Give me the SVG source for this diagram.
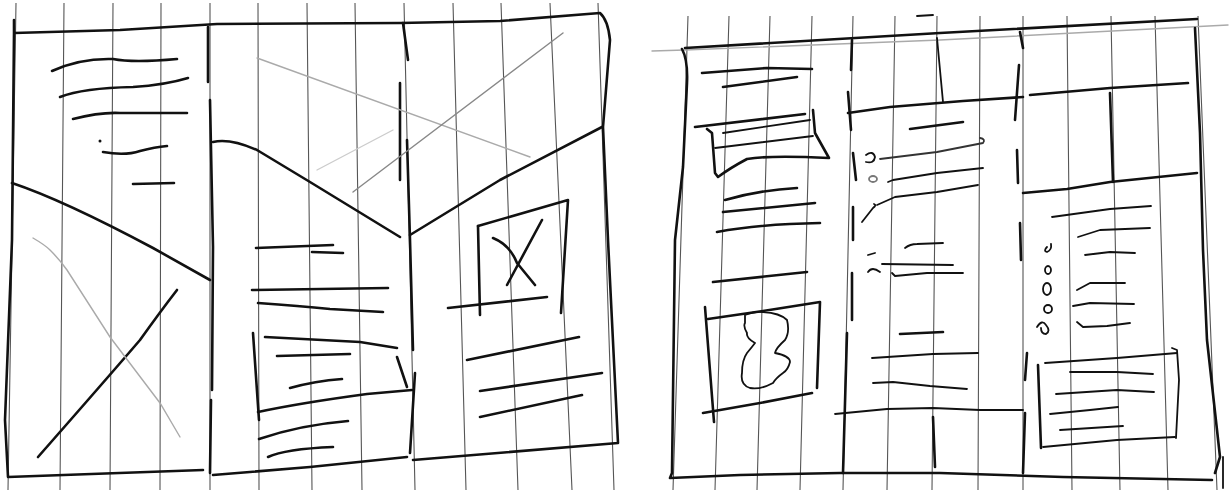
<svg xmlns="http://www.w3.org/2000/svg" width="1231" height="493" viewBox="0 0 1231 493">
<style>
.g{stroke:#555;stroke-width:1.1;fill:none}
.p{stroke:#111;stroke-width:2.6;fill:none;stroke-linecap:round;stroke-linejoin:round}
.t{stroke:#111;stroke-width:1.8;fill:none;stroke-linecap:round;stroke-linejoin:round}
.f{stroke:#aaa;stroke-width:1.4;fill:none;stroke-linecap:round}
</style>
<rect width="1231" height="493" fill="#fff"/>
<g id="grid-left">
<path class="g" d="M16 3L8 490M64 3L60 490M113 3L110 490M161 3L160 490M210 3L210 490M258 3L259 490M307 3L312 490M355 3L362 490M404 3L415 490M453 3L466 490M501 3L518 490M550 3L572 490M598 3L614 490"/>
</g>
<g id="grid-right">
<path class="g" d="M688 16L673 490M729 16L715 490M770 16L757 490M812 16L800 490M853 16L843 490M895 16L887 490M937 16L932 490M980 16L978 490M1023 16L1023 490M1067 16L1072 490M1111 16L1120 490M1155 16L1168 490M1198 16L1217 490"/>
<path class="f" d="M652 51L685 50L940 40L1228 25"/>
<path class="t" d="M917 16L933 15"/>
</g>
<g id="left-frame">
<path class="p" d="M14 20L14 33L120 30L217 24L400 23L500 21L600 13Q608 20 610 40L603 127L608 240L618 443L413 460M407 457L310 467L213 475M203 470L8 477L5 420L12 240L14 33"/>
<path class="p" d="M208 27L208 82M210 100L213 247L212 390M211 400L210 473"/>
<path class="p" d="M403 23L408 60M400 83L400 180M407 140L410 240L413 350M415 373L410 453"/>
</g>
<g id="panel-1">
<path class="p" d="M52 71Q80 58 113 59Q133 63 177 59"/>
<path class="p" d="M60 97Q83 88 133 87Q165 85 188 78"/>
<path class="p" d="M73 119Q100 112 120 113L187 113"/>
<circle cx="100" cy="141" r="1.5" fill="#111"/>
<path class="p" d="M103 152Q125 156 140 151Q155 147 167 146"/>
<path class="p" d="M133 184L174 183"/>
<path class="p" d="M12 183Q63 200 153 248L210 280"/>
<path class="p" d="M38 457Q110 375 140 340Q160 312 177 290"/>
<path class="f" d="M33 238Q45 245 50 250Q60 260 67 270L110 337L160 403L180 437"/>
</g>
<g id="panel-2">
<path class="p" d="M213 142Q230 138 257 150L310 182L400 237"/>
<path class="f" d="M257 58L530 157"/>
<path class="f" d="M353 192L563 33" style="stroke:#888"/>
<path class="f" d="M317 170L393 130" style="stroke:#ccc"/>
<path class="p" d="M256 248L333 245"/>
<path class="p" d="M312 252L343 253"/>
<path class="p" d="M252 290L388 288"/>
<path class="p" d="M258 303Q300 306 330 309L383 312"/>
<path class="p" d="M253 333L259 420"/>
<path class="p" d="M265 337L360 342L397 348"/>
<path class="p" d="M397 357L407 387"/>
<path class="p" d="M258 412Q300 403 367 394L412 390"/>
<path class="p" d="M277 356L350 354"/>
<path class="p" d="M290 388Q315 381 342 379"/>
<path class="p" d="M259 439Q300 425 348 421"/>
<path class="p" d="M268 457Q285 449 333 447"/>
</g>
<g id="panel-3">
<path class="p" d="M410 235L500 180L602 127"/>
<path class="p" d="M478 226L568 200L561 313"/>
<path class="p" d="M478 226L480 315"/>
<path class="p" d="M448 308L547 297"/>
<path class="p" d="M493 238Q510 245 517 263L535 285"/>
<path class="p" d="M542 220L507 285"/>
<path class="p" d="M467 360L579 337"/>
<path class="p" d="M480 391L602 373"/>
<path class="p" d="M480 417L582 395"/>
</g>
<g id="right-frame">
<path class="p" d="M685 48L940 33L1197 19"/>
<path class="p" d="M682 49Q688 60 687 83L683 167L675 240L672 473L670 478L740 475L840 473L940 473L1063 477L1212 480"/>
<path class="p" d="M1195 28L1200 133L1203 250L1207 340L1220 457L1215 473"/>
<path class="t" d="M1223 457L1223 488"/>
<path class="p" d="M852 40L851 70M848 92L851 130M853 153L856 180M853 207L853 240M852 273L852 320M847 333L843 473"/>
<path class="p" d="M1020 32L1023 48M1019 65L1015 120M1017 150L1018 183M1020 223L1021 260M1027 353L1025 380M1025 413L1023 473"/>
</g>
<g id="right-col-1">
<path class="p" d="M702 73L767 68L812 69"/>
<path class="p" d="M723 87L797 77"/>
<path class="p" d="M695 127L805 114"/>
<path class="p" d="M707 129L712 133L715 173L718 177Q730 168 747 159Q770 155 829 158L815 133L813 110"/>
<path class="t" d="M723 133L810 120"/>
<path class="t" d="M715 148L813 136"/>
<path class="p" d="M725 200Q760 190 797 188"/>
<path class="p" d="M723 212L815 203"/>
<path class="p" d="M717 232Q760 224 820 223"/>
<path class="p" d="M713 282L807 272"/>
<path class="p" d="M705 307L714 422"/>
<path class="p" d="M708 319L763 311L820 302L817 388"/>
<path class="p" d="M703 413L760 403L812 393"/>
<path class="t" d="M745 315Q755 311 763 312Q780 313 787 320Q790 332 785 340Q776 348 775 353Q790 356 790 362Q788 370 783 373Q776 378 773 383Q760 390 750 388Q740 385 742 373Q742 360 747 353Q752 347 755 343Q746 338 747 333Q743 326 745 323Z"/>
</g>
<g id="right-col-2">
<path class="p" d="M848 113L890 107L963 101L1023 97"/>
<path class="p" d="M1030 95L1110 88L1188 83"/>
<path class="t" d="M937 38L943 102"/>
<path class="p" d="M910 129L963 122"/>
<path class="t" d="M866 155Q873 150 875 157Q874 164 866 162"/>
<path class="t" d="M880 159L937 152L983 143Q986 139 980 138" style="stroke:#333"/>
<ellipse class="t" cx="873" cy="179" rx="4" ry="3" style="stroke:#777"/>
<path class="t" d="M888 182L893 180L937 173L983 168"/>
<path class="t" d="M862 222L873 208Q877 205 874 204"/>
<path class="t" d="M877 205L895 197L937 192L978 185"/>
<path class="t" d="M905 248Q910 244 917 244L943 243"/>
<path class="t" d="M868 255L875 253"/>
<path class="t" d="M868 272Q872 266 880 272"/>
<path class="t" d="M882 264L953 265"/>
<path class="t" d="M892 273L895 276L927 273L963 273"/>
<path class="p" d="M900 334L943 332"/>
<path class="t" d="M872 358L933 354L978 353"/>
<path class="t" d="M873 383L893 382L930 386L967 389"/>
<path class="t" d="M835 414L887 409L933 408L980 410L1023 410"/>
<path class="p" d="M933 417L935 467"/>
</g>
<g id="right-col-3">
<path class="t" d="M1110 93L1113 182" style="stroke-width:2.6"/>
<path class="p" d="M1023 193L1067 189L1110 182L1197 173"/>
<path class="t" d="M1052 217L1110 209L1151 206"/>
<path class="t" d="M1078 237L1100 230L1150 228"/>
<path class="t" d="M1047 247Q1043 251 1047 252Q1052 250 1051 244"/>
<ellipse class="t" cx="1048" cy="270" rx="3" ry="4"/>
<ellipse class="t" cx="1047" cy="289" rx="4" ry="6"/>
<ellipse class="t" cx="1048" cy="309" rx="4" ry="4"/>
<path class="t" d="M1037 327Q1042 319 1046 325Q1051 331 1046 334Q1041 334 1041 328"/>
<path class="t" d="M1085 255L1110 252L1135 253"/>
<path class="t" d="M1077 290L1090 283L1125 283"/>
<path class="t" d="M1073 306L1090 303L1134 304"/>
<path class="t" d="M1077 322L1083 327L1107 326L1130 323"/>
<path class="p" d="M1038 365L1041 448"/>
<path class="t" d="M1045 363L1117 358L1177 353"/>
<path class="t" d="M1172 348L1177 350L1179 380L1176 438"/>
<path class="t" d="M1043 447L1117 440L1175 437"/>
<path class="t" d="M1070 372L1117 372L1153 374"/>
<path class="t" d="M1056 394L1117 390L1154 392"/>
<path class="t" d="M1050 414L1090 410L1118 407"/>
<path class="t" d="M1060 430L1123 426"/>
</g>
</svg>
